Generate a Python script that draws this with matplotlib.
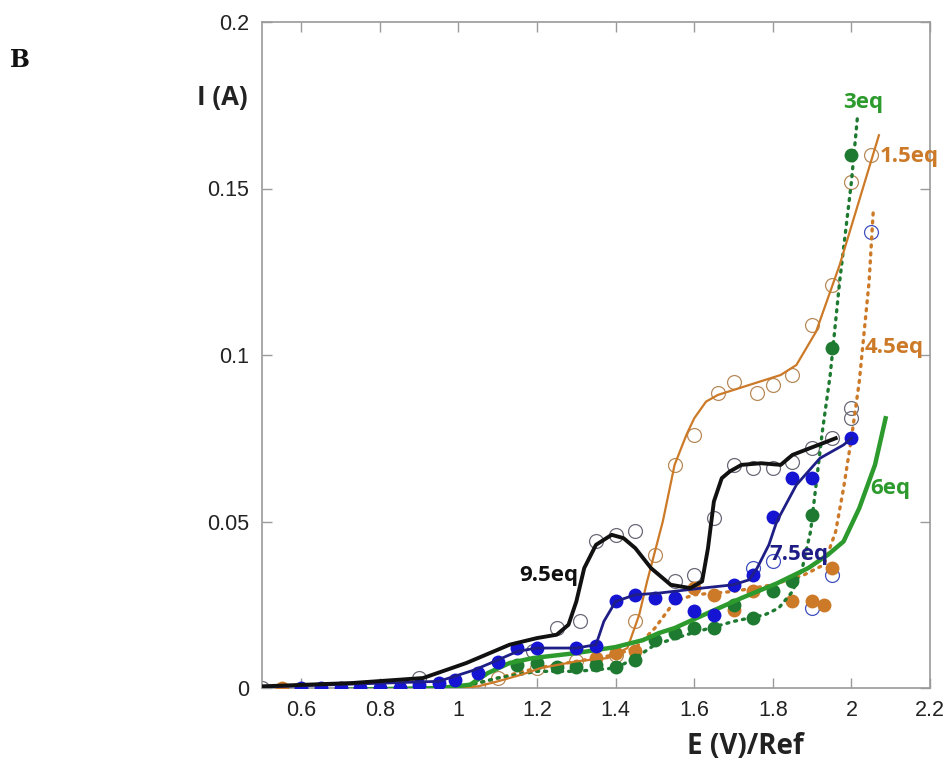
import matplotlib
matplotlib.use("Agg")
import matplotlib.pyplot as plt

# ---- data ----
eq95_line_x = [0.50, 0.73, 0.91, 1.02, 1.13, 1.20, 1.25, 1.28, 1.30, 1.32, 1.35, 1.39, 1.42, 1.45, 1.49,
               1.54, 1.59, 1.62, 1.635, 1.65, 1.67, 1.69, 1.72, 1.77, 1.82, 1.85, 1.96]
eq95_line_y = [0.0005, 0.0015, 0.003, 0.0075, 0.013, 0.015, 0.016, 0.019, 0.026, 0.036, 0.043, 0.046, 0.045,
               0.042, 0.036, 0.031, 0.030, 0.032, 0.042, 0.056, 0.063, 0.065, 0.067, 0.0675, 0.067, 0.070, 0.075]
eq95_pts_x = [0.50, 0.90, 1.19, 1.25, 1.31, 1.35, 1.40, 1.45, 1.55, 1.60, 1.65, 1.70, 1.75, 1.80, 1.85, 1.90,
              1.95, 2.00, 2.00]
eq95_pts_y = [0.0, 0.003, 0.011, 0.018, 0.020, 0.044, 0.046, 0.047, 0.032, 0.034, 0.051, 0.067, 0.066, 0.066,
              0.068, 0.072, 0.075, 0.081, 0.084]

eq75_line_x = [0.50, 0.95, 1.04, 1.10, 1.15, 1.20, 1.30, 1.35, 1.37, 1.40, 1.45, 1.51, 1.62, 1.70, 1.74, 1.76,
               1.79, 1.81, 1.86, 1.92, 1.98, 2.00]
eq75_line_y = [0.0003, 0.002, 0.0054, 0.0084, 0.011, 0.012, 0.012, 0.013, 0.020, 0.026, 0.028, 0.0285, 0.030,
               0.031, 0.0325, 0.036, 0.043, 0.050, 0.061, 0.069, 0.073, 0.075]
eq75_pts_x = [0.60, 0.65, 0.70, 0.75, 0.80, 0.85, 0.90, 0.95, 0.99, 1.05, 1.10, 1.15, 1.20, 1.30, 1.35, 1.40,
              1.45, 1.50, 1.55, 1.60, 1.65, 1.70, 1.75, 1.80, 1.85, 1.90, 2.00]
eq75_pts_y = [0.0, 0.0, 0.0, 0.0, 0.0, 0.0, 0.001, 0.0015, 0.0024, 0.0045, 0.0078, 0.012, 0.012, 0.012, 0.0126,
              0.026, 0.028, 0.027, 0.027, 0.023, 0.022, 0.031, 0.034, 0.0515, 0.063, 0.063, 0.075]
open_blue_x = [1.75, 1.80, 1.90, 1.95, 2.05]
open_blue_y = [0.036, 0.038, 0.024, 0.034, 0.137]

eq6_line_x = [0.72, 0.955, 1.03, 1.075, 1.13, 1.19, 1.30, 1.40, 1.47, 1.51, 1.55, 1.64, 1.72, 1.81, 1.89,
              1.94, 1.98, 2.02, 2.06, 2.087]
eq6_line_y = [-0.0005, 0.0, 0.001, 0.0045, 0.0075, 0.009, 0.0105, 0.0123, 0.0144, 0.0165, 0.018, 0.0228,
              0.027, 0.0314, 0.036, 0.040, 0.044, 0.054, 0.067, 0.081]

eq3_line_x = [1.00, 1.10, 1.20, 1.30, 1.40, 1.45, 1.50, 1.58, 1.70, 1.78, 1.815, 1.85, 1.875, 1.896, 1.908,
              1.926, 1.946, 1.97, 2.00, 2.015]
eq3_line_y = [0.0, 0.003, 0.005, 0.005, 0.006, 0.009, 0.013, 0.016, 0.020, 0.022, 0.024, 0.029, 0.036, 0.047,
              0.059, 0.077, 0.094, 0.122, 0.152, 0.171]
eq3_pts_x = [1.15, 1.20, 1.25, 1.30, 1.35, 1.40, 1.45, 1.50, 1.55, 1.60, 1.65, 1.70, 1.75, 1.80, 1.85, 1.90,
             1.95, 2.00]
eq3_pts_y = [0.007, 0.0075, 0.0064, 0.0064, 0.007, 0.0064, 0.0084, 0.0144, 0.0164, 0.018, 0.018, 0.025, 0.021,
             0.029, 0.032, 0.052, 0.102, 0.160]

eq45_line_x = [1.00, 1.10, 1.20, 1.30, 1.40, 1.45, 1.50, 1.55, 1.60, 1.70, 1.80, 1.88, 1.93, 1.96, 1.98, 2.00,
               2.02, 2.045, 2.056]
eq45_line_y = [0.0, 0.003, 0.006, 0.008, 0.010, 0.012, 0.018, 0.026, 0.028, 0.029, 0.031, 0.034, 0.037, 0.047,
               0.060, 0.075, 0.092, 0.122, 0.144]
eq45_pts_x = [0.55, 1.35, 1.40, 1.45, 1.60, 1.65, 1.70, 1.75, 1.85, 1.90, 1.93, 1.95]
eq45_pts_y = [0.0, 0.009, 0.0105, 0.011, 0.030, 0.028, 0.0235, 0.029, 0.026, 0.026, 0.025, 0.036]

eq15_line_x = [1.00, 1.05, 1.10, 1.16, 1.21, 1.30, 1.38, 1.43, 1.46, 1.48, 1.52, 1.55, 1.58, 1.60, 1.63, 1.66,
               1.74, 1.82, 1.86, 1.91, 1.97, 2.07]
eq15_line_y = [0.0, 0.0005, 0.002, 0.004, 0.006, 0.008, 0.009, 0.012, 0.022, 0.032, 0.050, 0.067, 0.076, 0.081,
               0.086, 0.088, 0.091, 0.094, 0.097, 0.107, 0.127, 0.166]
eq15_pts_x = [1.05, 1.10, 1.20, 1.30, 1.40, 1.45, 1.50, 1.55, 1.60, 1.66, 1.70, 1.76, 1.80, 1.85, 1.90, 1.95,
              2.00, 2.05]
eq15_pts_y = [0.001, 0.003, 0.006, 0.008, 0.010, 0.020, 0.040, 0.067, 0.076, 0.0886, 0.092, 0.0886, 0.091,
              0.094, 0.109, 0.121, 0.152, 0.160]

x_ticks = [0.6, 0.8, 1.0, 1.2, 1.4, 1.6, 1.8, 2.0, 2.2]
x_ticklabels = ["0.6", "0.8", "1", "1.2", "1.4", "1.6", "1.8", "2", "2.2"]
y_ticks = [0, 0.05, 0.1, 0.15, 0.2]
y_ticklabels = ["0", "0.05", "0.1", "0.15", "0.2"]

labels = ["9.5eq", "7.5eq", "6eq", "4.5eq", "1.5eq", "3eq"]
label_x = [1.229, 1.867, 2.10, 2.109, 2.148, 2.03]
label_y = [0.0338, 0.040, 0.060, 0.1024, 0.1596, 0.1757]

# ---- styles ----
ORANGE = "#cc7a28"
NAVY = "#1e1e86"
BLUE = "#1414d2"
DKGREEN = "#1d7a30"
GREEN = "#2c9a2c"
label_colors = ["#111111", NAVY, GREEN, ORANGE, ORANGE, GREEN]

fig = plt.figure(figsize=(9.45, 7.71), dpi=100)
ax = fig.add_axes([262 / 945, 1 - 688 / 771, (930 - 262) / 945, (688 - 22) / 771])

ms = 10
# open circles
ax.plot(eq15_pts_x, eq15_pts_y, "o", ms=ms, mfc="none", mec="#b88a5a", mew=0.9, zorder=2)
ax.plot(eq95_pts_x, eq95_pts_y, "o", ms=ms, mfc="none", mec="#6a6a78", mew=0.9, zorder=2)
ax.plot(open_blue_x, open_blue_y, "o", ms=ms, mfc="none", mec="#4050c0", mew=0.9, zorder=2)

# dotted series with filled markers
dot = (0, (0.6, 1.8))
ax.plot(eq45_line_x, eq45_line_y, color=ORANGE, lw=2.4, ls=dot, dash_capstyle="round", zorder=3)
ax.plot(eq45_pts_x, eq45_pts_y, "o", ms=ms, color=ORANGE, mec="none", zorder=3)
ax.plot(eq3_line_x, eq3_line_y, color=DKGREEN, lw=2.4, ls=dot, dash_capstyle="round", zorder=3)
ax.plot(eq3_pts_x, eq3_pts_y, "o", ms=ms, color=DKGREEN, mec="none", zorder=3)

# solid series
ax.plot(eq15_line_x, eq15_line_y, color=ORANGE, lw=1.6, zorder=4)
ax.plot(eq6_line_x, eq6_line_y, color=GREEN, lw=3.2, zorder=4)
ax.plot(eq75_pts_x, eq75_pts_y, "o", ms=ms, color=BLUE, mec="none", zorder=5)
ax.plot(eq75_line_x, eq75_line_y, color=NAVY, lw=2.0, zorder=5)
ax.plot(eq95_line_x, eq95_line_y, color="#111111", lw=2.8, zorder=6)

for t, x, y, c in zip(labels, label_x, label_y, label_colors):
    ax.text(x, y, t, color=c, fontsize=16, fontweight="bold", family="Open Sans",
            ha="center", va="center", zorder=7, clip_on=False)

ax.set_xlim(0.5, 2.2)
ax.set_ylim(0, 0.2)
ax.set_xticks(x_ticks)
ax.set_xticklabels(x_ticklabels)
ax.set_yticks(y_ticks)
ax.set_yticklabels(y_ticklabels)
for s in ax.spines.values():
    s.set_color("#9a9a9a")
    s.set_linewidth(1.2)
ax.tick_params(direction="in", length=7, width=1, color="#9a9a9a", top=True, right=True,
               labelsize=15.5, labelcolor="#222222", pad=9)
for lab in ax.get_xticklabels() + ax.get_yticklabels():
    lab.set_family(["Liberation Sans Narrow", "Liberation Sans", "DejaVu Sans"])

fig.text(745 / 945, 1 - 746 / 771, "E (V)/Ref", fontsize=20, fontweight="bold", family="Open Sans",
         ha="center", va="center", color="#222222")
fig.text(222 / 945, 1 - 98 / 771, "I (A)", fontsize=18.5, fontweight="bold", family="Open Sans",
         ha="center", va="center", color="#222222")
fig.text(20 / 945, 1 - 60 / 771, "B", fontsize=17, fontweight="bold", family="DejaVu Serif",
         ha="center", va="center", color="#111111")

fig.savefig("out.png", dpi=100)
